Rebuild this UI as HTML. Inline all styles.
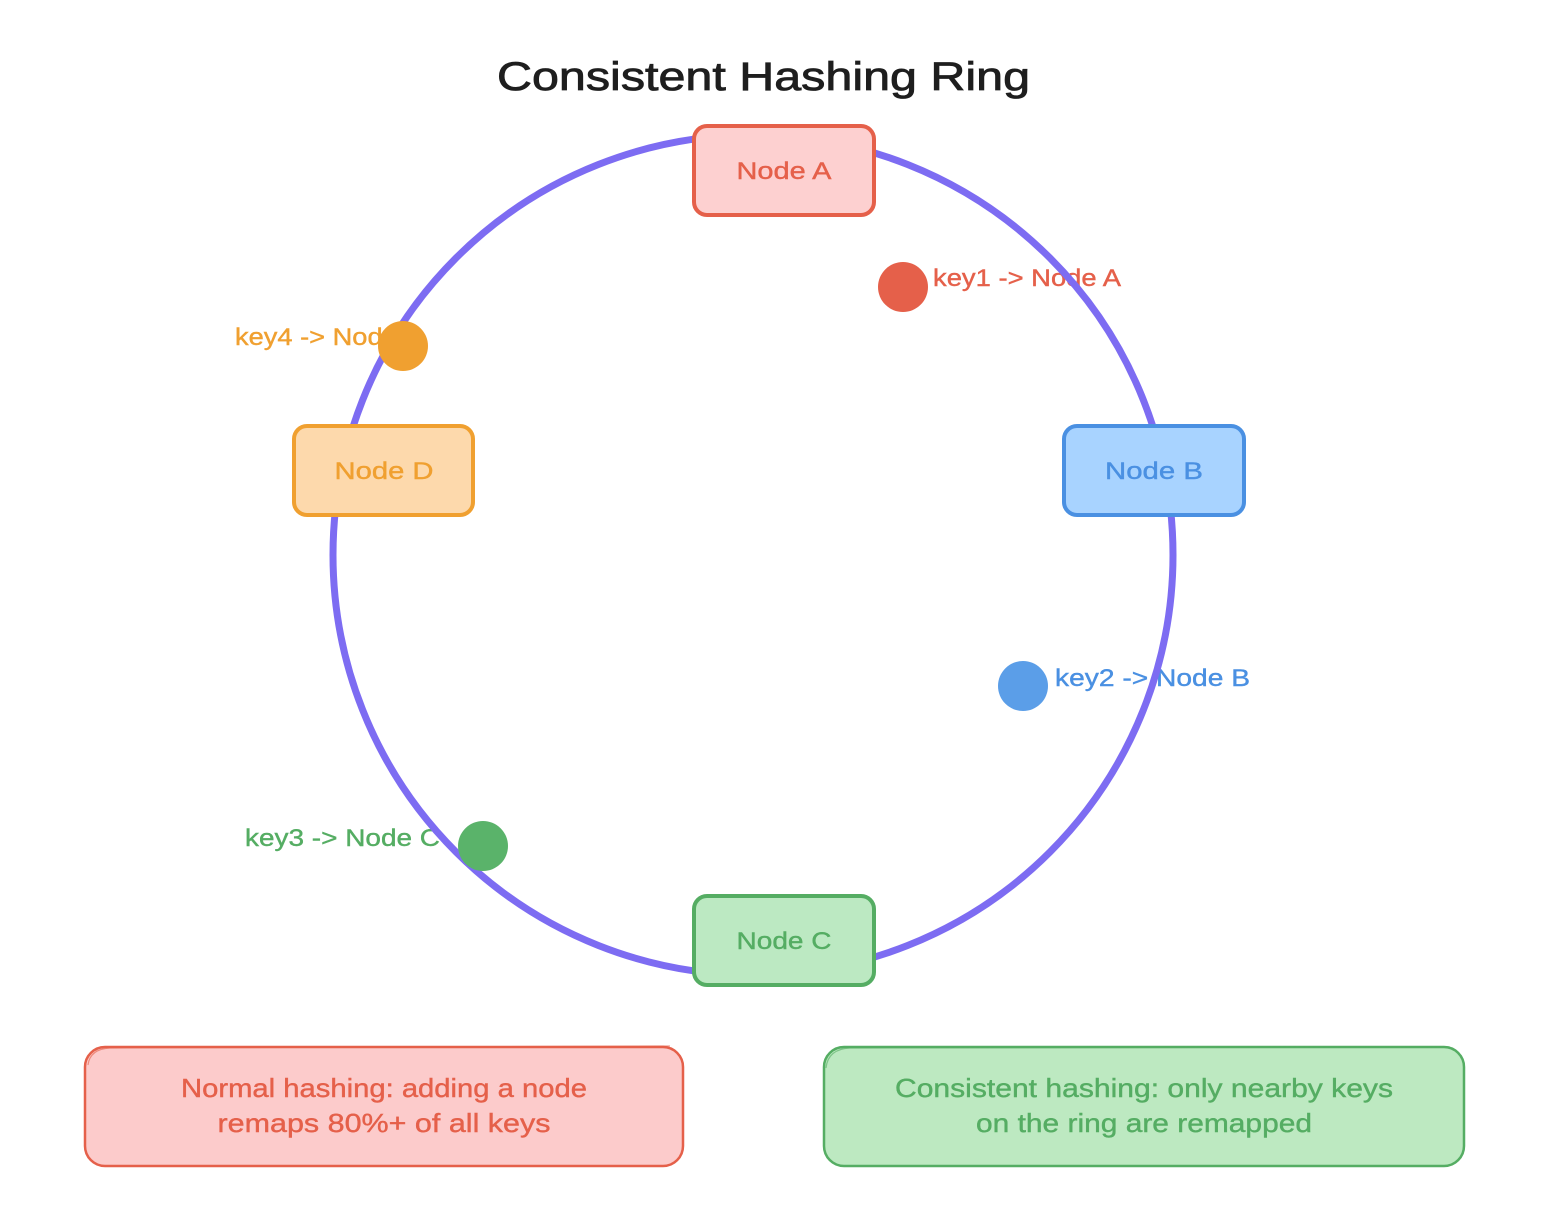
<!DOCTYPE html>
<html>
<head>
<meta charset="utf-8">
<style>
  html, body { margin: 0; padding: 0; background: #ffffff; }
  body { width: 1554px; height: 1222px; overflow: hidden; }
  svg { display: block; }
  text { font-family: "Liberation Sans", "DejaVu Sans", sans-serif; }
</style>
</head>
<body>
<svg width="1554" height="1222" viewBox="0 0 1554 1222" xmlns="http://www.w3.org/2000/svg">
  <rect x="0" y="0" width="1554" height="1222" fill="#ffffff"/>

  <!-- Title -->
  <text x="497" y="90" font-size="40" fill="#1e1e1e" stroke="#1e1e1e" stroke-width="0.8" textLength="533" lengthAdjust="spacingAndGlyphs">Consistent Hashing Ring</text>

  <!-- Key labels (under ring and dots) -->
  <text x="933" y="286" font-size="24" fill="#e5604a" stroke="#e5604a" stroke-width="0.4" textLength="188" lengthAdjust="spacingAndGlyphs">key1 -&gt; Node A</text>
  <text x="235" y="345" font-size="24" fill="#f0a030" stroke="#f0a030" stroke-width="0.4" textLength="190" lengthAdjust="spacingAndGlyphs">key4 -&gt; Node D</text>
  <text x="1055" y="686" font-size="24" fill="#4a90e2" stroke="#4a90e2" stroke-width="0.4" textLength="195" lengthAdjust="spacingAndGlyphs">key2 -&gt; Node B</text>
  <text x="245" y="846" font-size="24" fill="#55ad63" stroke="#55ad63" stroke-width="0.4" textLength="195" lengthAdjust="spacingAndGlyphs">key3 -&gt; Node C</text>

  <!-- Ring -->
  <circle cx="753" cy="555" r="420" fill="none" stroke="#7d6cf2" stroke-width="7"/>

  <!-- Key dots -->
  <circle cx="903" cy="287" r="25" fill="#e5604a"/>
  <circle cx="403" cy="346" r="25" fill="#f0a030"/>
  <circle cx="1023" cy="686" r="25" fill="#5b9ee8"/>
  <circle cx="483" cy="846" r="25" fill="#5ab36a"/>

  <!-- Node A -->
  <rect x="694" y="126" width="180" height="89" rx="13" fill="#fdd0d0" stroke="#e5604a" stroke-width="4"/>
  <text x="784" y="179" font-size="24" fill="#e5604a" stroke="#e5604a" stroke-width="0.4" text-anchor="middle" textLength="95" lengthAdjust="spacingAndGlyphs">Node A</text>

  <!-- Node B -->
  <rect x="1064" y="426" width="180" height="89" rx="13" fill="#a8d3ff" stroke="#4a90e2" stroke-width="4"/>
  <text x="1154" y="479" font-size="24" fill="#4a90e2" stroke="#4a90e2" stroke-width="0.4" text-anchor="middle" textLength="98" lengthAdjust="spacingAndGlyphs">Node B</text>

  <!-- Node C -->
  <rect x="694" y="896" width="180" height="89" rx="13" fill="#bce9c2" stroke="#55ad63" stroke-width="4"/>
  <text x="784" y="949" font-size="24" fill="#55ad63" stroke="#55ad63" stroke-width="0.4" text-anchor="middle" textLength="95" lengthAdjust="spacingAndGlyphs">Node C</text>

  <!-- Node D -->
  <rect x="294" y="426" width="179" height="89" rx="13" fill="#fdd9ac" stroke="#f0a030" stroke-width="4"/>
  <text x="384" y="479" font-size="24" fill="#f0a030" stroke="#f0a030" stroke-width="0.4" text-anchor="middle" textLength="99" lengthAdjust="spacingAndGlyphs">Node D</text>

  <!-- Bottom red note -->
  <rect x="85" y="1047" width="598" height="119" rx="20" fill="#fccbcb" stroke="#e5604a" stroke-width="2.5"/>
  <path d="M88 1065 Q 90 1049 110 1048 L 670 1046" fill="none" stroke="#e5604a" stroke-width="1.2" opacity="0.6"/>
  <text x="384" y="1097" font-size="26" fill="#e5604a" stroke="#e5604a" stroke-width="0.4" text-anchor="middle" textLength="406" lengthAdjust="spacingAndGlyphs">Normal hashing: adding a node</text>
  <text x="384" y="1132" font-size="26" fill="#e5604a" stroke="#e5604a" stroke-width="0.4" text-anchor="middle" textLength="333" lengthAdjust="spacingAndGlyphs">remaps 80%+ of all keys</text>

  <!-- Bottom green note -->
  <rect x="824" y="1047" width="640" height="119" rx="20" fill="#bde9c1" stroke="#55ad63" stroke-width="2.5"/>
  <path d="M826 1068 Q 828 1049 850 1048 L 1450 1047" fill="none" stroke="#55ad63" stroke-width="1.2" opacity="0.6"/>
  <text x="1144" y="1097" font-size="26" fill="#55ad63" stroke="#55ad63" stroke-width="0.4" text-anchor="middle" textLength="498" lengthAdjust="spacingAndGlyphs">Consistent hashing: only nearby keys</text>
  <text x="1144" y="1132" font-size="26" fill="#55ad63" stroke="#55ad63" stroke-width="0.4" text-anchor="middle" textLength="336" lengthAdjust="spacingAndGlyphs">on the ring are remapped</text>
</svg>
</body>
</html>
